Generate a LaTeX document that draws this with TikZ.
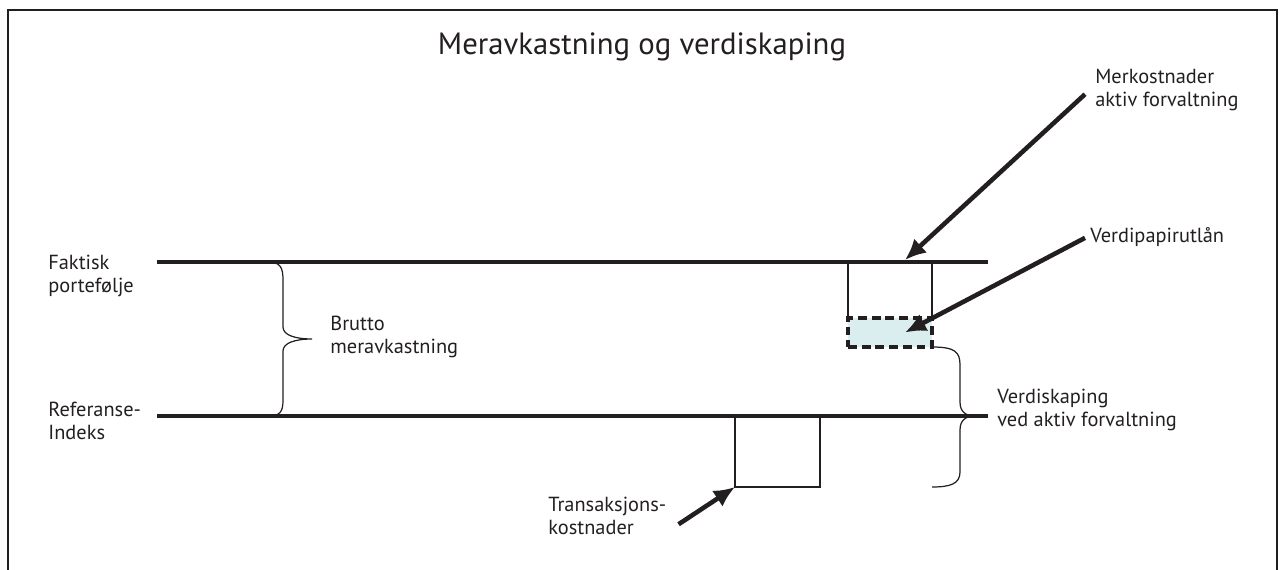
\documentclass[tikz,border=0pt]{standalone}
\usepackage{fontspec}
\setmainfont{PT Sans}
\usetikzlibrary{arrows.meta}
\definecolor{ink}{HTML}{231F20}
\definecolor{lendfill}{HTML}{DAEEF0}
\tikzstyle{frame}=[draw=ink,line width=1.2pt]
\tikzstyle{level}=[draw=ink,line width=2.3pt]
\tikzstyle{thinbar}=[draw=ink,line width=0.6pt]
\tikzstyle{brace}=[draw=ink,line width=0.7pt]
\tikzstyle{pointer}=[draw=ink,line width=2.6pt,-{Latex[length=0.42cm,width=0.38cm]}]
\tikzstyle{label}=[anchor=north west,inner sep=0pt,align=left,text=ink,font=\fontsize{11.6}{13.2}\selectfont]
\tikzstyle{lendbox}=[draw=ink,fill=lendfill,line width=1.8pt,dash pattern=on 5pt off 2.8pt,minimum width=1.68cm,minimum height=0.58cm,inner sep=0pt]

\begin{document}
\begin{tikzpicture}[x=0.02cm,y=-0.02cm]
\useasboundingbox (0,0) rectangle (1284,570);
\draw[frame] (8,570) |- (1277,10) -- (1277,570);
\node[anchor=north,inner sep=0pt,text=ink,font=\fontsize{17.5}{20}\selectfont] (title) at (642,32) {Meravkastning og verdiskaping};
% levels
\coordinate (fakL) at (157,262);
\coordinate (fakR) at (988,262);
\coordinate (refL) at (157,416);
\coordinate (refR) at (988,416);
\draw[level] (fakL) -- (fakR);
\draw[level] (refL) -- (refR);
\node[label] (fak) at (48,255) {Faktisk\\portefølje};
\node[label] (ref) at (48,402) {Referanse-\\Indeks};
% gross excess return
\draw[brace] (268,262) .. controls (280,262) and (283,267) .. (283,280) -- (283,327)
  .. controls (283,335) and (295,339) .. (312,339) .. controls (295,339) and (283,343) .. (283,351)
  -- (283,400) .. controls (283,412) and (280,416) .. (268,416);
\node[label] (brutto) at (330,316) {Brutto\\meravkastning};
% extra costs and lending
\draw[thinbar] (848,262) -- (848,318);
\draw[thinbar] (932,262) -- (932,318);
\node[lendbox] (lend) at (890,332.5) {};
\coordinate (merkTip) at (905,260);
\node[label] (merk) at (1095,69) {Merkostnader\\aktiv forvaltning};
\node[label] (lendtxt) at (1090,227) {Verdipapirutlån};
\draw[pointer] ([shift={(-10,4)}]merk.west) -- (merkTip);
\draw[pointer] ([shift={(-5,1)}]lendtxt.west) -- ([xshift=0.3cm]lend.center);
% transaction costs
\draw[thinbar] (735,416) |- (820,487) -- (820,416);
\coordinate (transTip) at (735,487);
\node[label] (trans) at (548,497) {Transaksjons-\\kostnader};
\draw[pointer] ([shift={(12,8)}]trans.east) -- (transTip);
% value added
\draw[brace] (932,347) .. controls (955,347) and (960,352) .. (960,365) -- (960,402)
  .. controls (960,412) and (966,416) .. (975,416) .. controls (966,416) and (960,420) .. (960,430)
  -- (960,472) .. controls (960,484) and (950,487) .. (932,487);
\node[label] (verdi) at (997,389) {Verdiskaping\\ved aktiv forvaltning};
\end{tikzpicture}
\end{document}
